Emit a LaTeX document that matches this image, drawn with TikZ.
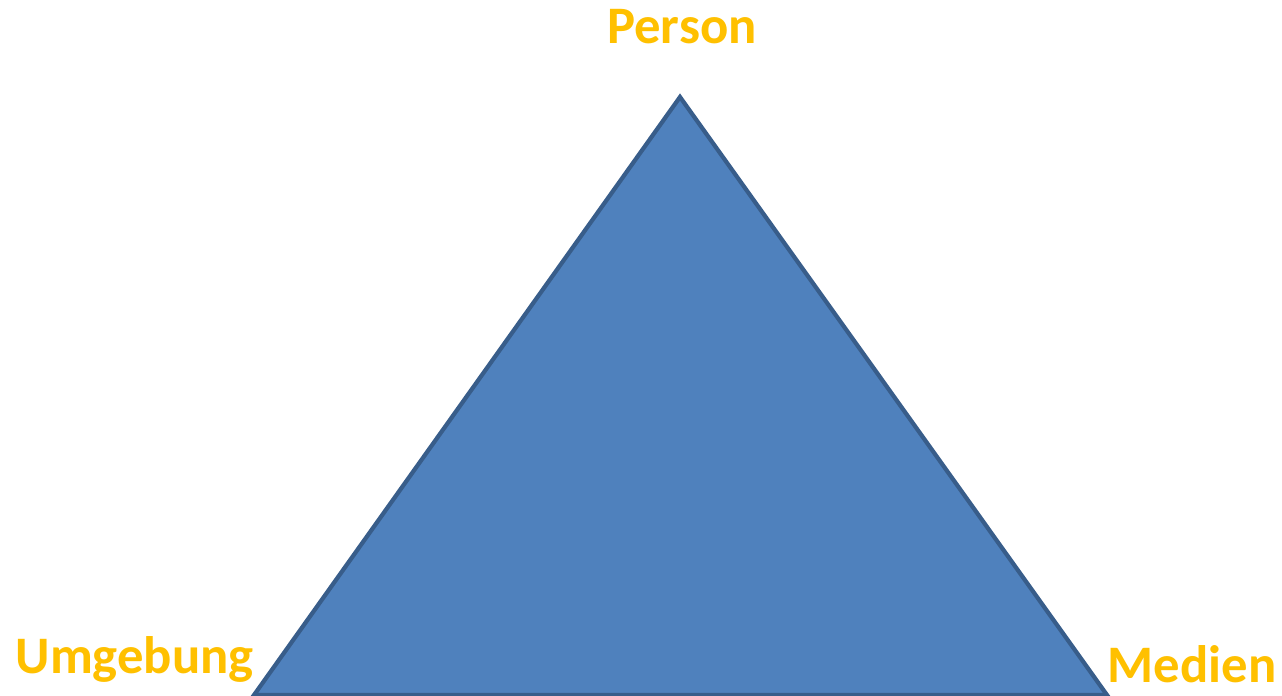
\documentclass[tikz,border=0pt]{standalone}
\usepackage{fontspec}
\setmainfont{Carlito}
\usetikzlibrary{positioning}

\definecolor{dreieckfill}{HTML}{4F81BD}
\definecolor{dreieckrand}{HTML}{385D8A}
\definecolor{ecktext}{HTML}{FFC000}

\tikzset{
  ecke/.style={font=\fontsize{15}{18}\selectfont\bfseries, text=ecktext, inner sep=0pt},
  dreieck/.style={fill=dreieckfill, draw=dreieckrand, line width=1.2pt, line join=miter}
}

\begin{document}
\begin{tikzpicture}

  % Rahmen (Seitenverhaeltnis)
  \useasboundingbox (0,0) rectangle (12.82,6.95);

  % Eckpunkte des Dreiecks
  \coordinate (oben)   at (6.80,5.98);
  \coordinate (links)  at (2.54,0);
  \coordinate (rechts) at (11.07,0);

  % Dreieck
  \draw[dreieck] (links) -- (oben) -- (rechts) -- cycle;

  % Beschriftungen
  \node[ecke, anchor=base] (person) at (6.82,6.52) {Person};
  \node[ecke, anchor=base west] (umgebung) at (0.15,0.22) {Umgebung};
  \node[ecke, anchor=base west] (medien) at (11.07,0.13) {Medien};

\end{tikzpicture}
\end{document}
